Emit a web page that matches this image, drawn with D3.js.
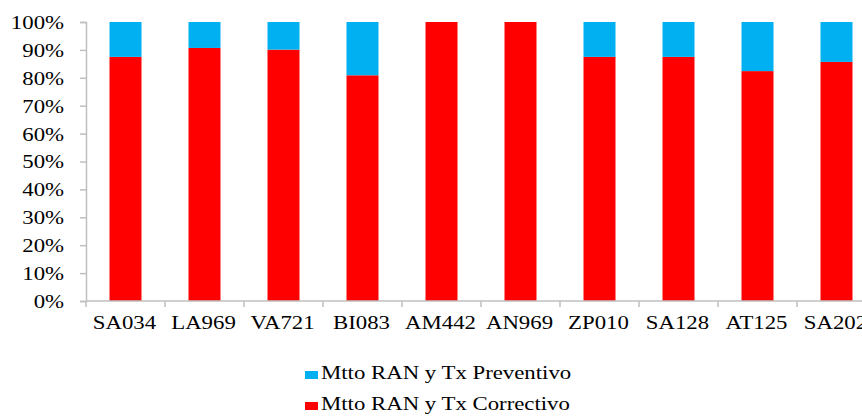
<!DOCTYPE html>
<html>
<head>
<meta charset="utf-8">
<script src="https://cdn.jsdelivr.net/npm/d3@7"></script>
<style>
  html, body { margin: 0; padding: 0; background: #fff; }
  svg { display: block; }
  text { font-family: "Liberation Serif", "Times New Roman", serif; fill: #000; }
</style>
</head>
<body>
<div id="chart"></div>
<script>
// Sites and the share of maintenance work (percent) of each type
const categories = ["SA034", "LA969", "VA721", "BI083", "AM442", "AN969", "ZP010", "SA128", "AT125", "SA202"];
const correctivo = [87.5, 90.7, 90.1, 80.9, 100, 100, 87.5, 87.5, 82.4, 85.7];
const preventivo = [12.5, 9.3, 9.9, 19.1, 0, 0, 12.5, 12.5, 17.6, 14.3];
const yTicks = [0, 10, 20, 30, 40, 50, 60, 70, 80, 90, 100];
const seriesNames = ["Mtto RAN y Tx Preventivo", "Mtto RAN y Tx Correctivo"];
const seriesColors = ["#00B0F0", "#FF0000"];

const W = 862, H = 416;
const plotLeft = 86, plotBottom = 301, plotTop = 22;
const step = 79;
const sx = 1.2; // horizontal stretch of the lettering

const svg = d3.select("#chart").append("svg")
  .attr("width", W).attr("height", H)
  .style("overflow", "hidden");

const x = d3.scaleBand()
  .domain(categories)
  .range([plotLeft, plotLeft + step * categories.length])
  .paddingInner(0.595)
  .paddingOuter(0.2975);

const y = d3.scaleLinear().domain([0, 100]).range([plotBottom, plotTop]);

// stacked data: corrective at the base, preventive on top
const rows = categories.map((c, i) => ({ cat: c, Correctivo: correctivo[i], Preventivo: preventivo[i] }));
const stack = d3.stack().keys(["Correctivo", "Preventivo"]);
const layers = stack(rows);
const layerColor = { Correctivo: seriesColors[1], Preventivo: seriesColors[0] };

svg.append("g").selectAll("g")
  .data(layers)
  .join("g")
  .attr("fill", d => layerColor[d.key])
  .selectAll("rect")
  .data(d => d.filter(p => p[1] - p[0] > 0))
  .join("rect")
  .attr("x", d => x(d.data.cat))
  .attr("width", x.bandwidth())
  .attr("y", d => y(d[1]))
  .attr("height", d => y(d[0]) - y(d[1]));

const axisColor = "#BFBFBF";

// value axis
const yAxis = svg.append("g")
  .attr("transform", `translate(${plotLeft},0)`)
  .call(d3.axisLeft(y).tickValues(yTicks).tickSize(6).tickFormat(d => d + "%"));
yAxis.select(".domain").attr("stroke", axisColor).attr("stroke-width", 1.5);
yAxis.selectAll(".tick line").attr("stroke", axisColor).attr("stroke-width", 1.5);
yAxis.selectAll(".tick text")
  .attr("x", -22 / sx)
  .attr("dy", "0.34em")
  .attr("transform", `scale(${sx},1)`)
  .style("font-size", "19px")
  .style("font-family", "'Liberation Serif', 'Times New Roman', serif")
  .attr("fill", "#000");

// category axis
const xAxisG = svg.append("g");
xAxisG.append("line")
  .attr("x1", plotLeft).attr("x2", plotLeft + step * categories.length)
  .attr("y1", plotBottom).attr("y2", plotBottom)
  .attr("stroke", axisColor).attr("stroke-width", 1.5);
const bounds = d3.range(categories.length + 1).map(i => plotLeft + step * i);
xAxisG.selectAll("line.tk")
  .data(bounds)
  .join("line")
  .attr("class", "tk")
  .attr("x1", d => d).attr("x2", d => d)
  .attr("y1", plotBottom).attr("y2", plotBottom + 6)
  .attr("stroke", axisColor).attr("stroke-width", 1.5);
xAxisG.selectAll("text")
  .data(categories)
  .join("text")
  .attr("transform", d => `translate(${x(d) + x.bandwidth() / 2 - 1},328.5) scale(${sx},1)`)
  .attr("text-anchor", "middle")
  .style("font-size", "19px")
  .text(d => d);

// legend
const legend = svg.append("g");
const legendRows = [{ name: seriesNames[0], color: seriesColors[0], y: 379 }, { name: seriesNames[1], color: seriesColors[1], y: 410 }];
const lg = legend.selectAll("g").data(legendRows).join("g");
lg.append("rect")
  .attr("x", 305).attr("y", d => d.y - 8)
  .attr("width", 13).attr("height", 8)
  .attr("fill", d => d.color);
lg.append("text")
  .attr("transform", d => `translate(321,${d.y}) scale(${sx},1)`)
  .style("font-size", "19px")
  .text(d => d.name);
</script>
</body>
</html>
